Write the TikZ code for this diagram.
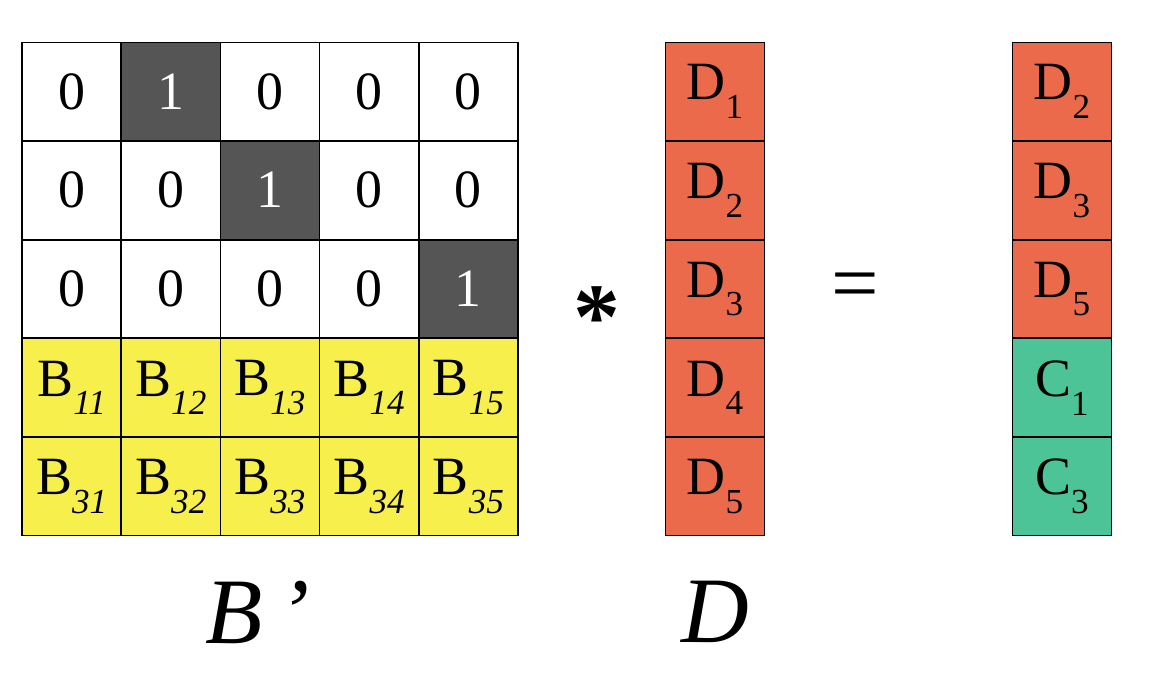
\documentclass[tikz,border=0pt]{standalone}
\usepackage{fontspec}
\setmainfont{Liberation Serif}
\usetikzlibrary{positioning}
\definecolor{dred}{HTML}{EA6A4B}
\definecolor{byellow}{HTML}{F6EF4C}
\definecolor{cgreen}{HTML}{4CC497}
\definecolor{onegray}{HTML}{555555}
\newcommand{\sub}[1]{\raisebox{-0.35em}{\fontsize{30}{30}\selectfont #1}}

\begin{document}
\begin{tikzpicture}[
    x=0.03cm, y=-0.03cm,
    cell/.style={rectangle, draw=black, line width=1.2pt, minimum width=2.97cm, minimum height=2.95cm, inner sep=0pt, font=\fontsize{46}{48}\selectfont},
    zero/.style={cell, fill=white},
    one/.style={cell, fill=onegray, text=white},
    bcell/.style={cell, fill=byellow},
    dcell/.style={cell, fill=dred},
    ccell/.style={cell, fill=cgreen},
    big/.style={font=\fontsize{80}{82}\selectfont\itshape}
]
\useasboundingbox (0,0) rectangle (1166,678);

% B' top rows
\foreach \r/\row in {1/{0,1,0,0,0}, 2/{0,0,1,0,0}, 3/{0,0,0,0,1}} {
  \foreach \v [count=\c] in \row {
    \ifnum\v=1
      \node[one] (b\r\c) at ({22+99.2*(\c-0.5)}, {42+98.8*(\r-0.5)}) {1};
    \else
      \node[zero] (b\r\c) at ({22+99.2*(\c-0.5)}, {42+98.8*(\r-0.5)}) {0};
    \fi
  }
}
% B' bottom rows
\foreach \r/\k in {4/1, 5/3} {
  \foreach \c in {1,...,5} {
    \node[bcell] (b\r\c) at ({22+99.2*(\c-0.5)}, {42+98.8*(\r-0.5)}) {B\sub{\itshape\k\c}};
  }
}

% D
\foreach \r in {1,...,5} {
  \node[dcell] (d\r) at (715, {42+98.8*(\r-0.5)}) {D\sub{\r}};
}

% result
\foreach \t/\s [count=\r] in {dcell/D\sub{2}, dcell/D\sub{3}, dcell/D\sub{5}, ccell/C\sub{1}, ccell/C\sub{3}} {
  \node[\t] (r\r) at (1062, {42+98.8*(\r-0.5)}) {\s};
}

% operators and labels
\node[font=\fontsize{80}{80}\selectfont\bfseries] (times) at (597,318) {*};
\node[font=\fontsize{72}{72}\selectfont] (eq) at (855,292) {=};
\node[big] (lb) at (258,612) {B\,’};
\node[big] (ld) at (715,612) {D};
\end{tikzpicture}
\end{document}
